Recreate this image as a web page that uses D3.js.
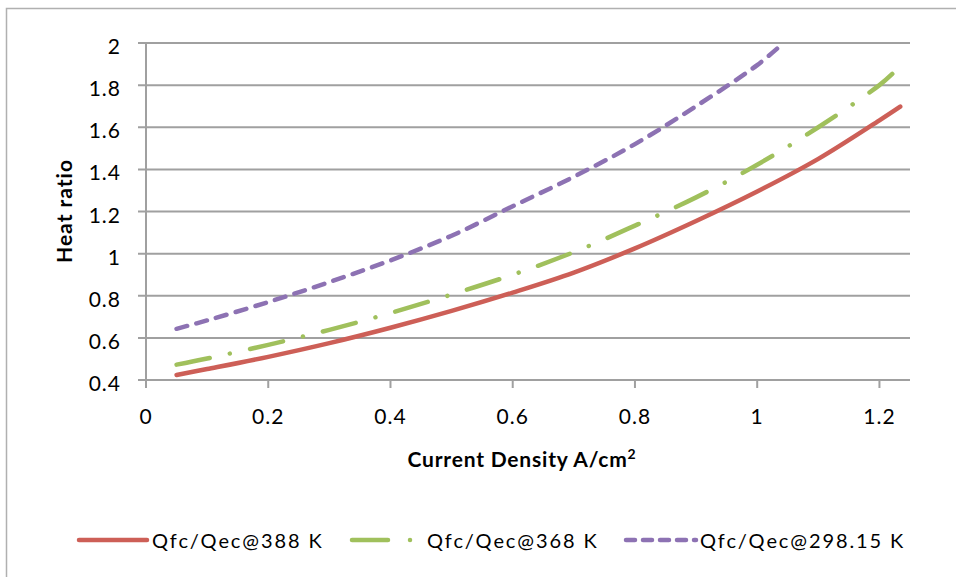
<!DOCTYPE html>
<html>
<head>
<meta charset="utf-8">
<script src="https://cdn.jsdelivr.net/npm/d3@7"></script>
<style>
  body { margin: 0; background: #fff; }
  text { font-family: Lato, "Open Sans", sans-serif; fill: #000; }
</style>
</head>
<body>
<span></span>
<script>
let width = 956;
let height = 577;

// current density (A/cm2)
let xRed = [0.05, 0.1, 0.2, 0.3, 0.4, 0.5, 0.6, 0.7, 0.8, 0.9, 1.0, 1.1, 1.2, 1.234];
let yRed = [0.424, 0.452, 0.51, 0.575, 0.648, 0.728, 0.815, 0.91, 1.025, 1.155, 1.295, 1.45, 1.633, 1.698];

let xGreen = [0.05, 0.1, 0.2, 0.3, 0.4, 0.5, 0.6, 0.7, 0.8, 0.9, 1.0, 1.1, 1.2, 1.221];
let yGreen = [0.473, 0.502, 0.567, 0.638, 0.718, 0.806, 0.9, 1.007, 1.133, 1.267, 1.422, 1.6, 1.8, 1.853];

let xPurple = [0.05, 0.1, 0.2, 0.3, 0.4, 0.5, 0.6, 0.7, 0.8, 0.9, 1.0, 1.041];
let yPurple = [0.643, 0.683, 0.77, 0.865, 0.968, 1.085, 1.225, 1.365, 1.52, 1.70, 1.895, 1.995];

let seriesNames = ["Qfc/Qec@388 K", "Qfc/Qec@368 K", "Qfc/Qec@298.15 K"];
let xTicks = [0, 0.2, 0.4, 0.6, 0.8, 1, 1.2];
let yTicks = [0.4, 0.6, 0.8, 1, 1.2, 1.4, 1.6, 1.8, 2];

let plotLeft = 146, plotRight = 910, plotTop = 43, plotBottom = 380;

let svg = d3.select("span")
    .append("svg")
    .attr("width", width)
    .attr("height", height);

// outer chart border
svg.append("rect")
    .attr("x", 6.5).attr("y", 8.5)
    .attr("width", 1000).attr("height", 1000)
    .style("fill", "none")
    .style("stroke", "#b0b0b0")
    .style("stroke-width", 1.5);

let x = d3.scaleLinear().domain([0, 1.25]).range([plotLeft, plotRight]);
let y = d3.scaleLinear().domain([0.4, 2]).range([plotBottom, plotTop]);

// gridlines
svg.append("g")
    .selectAll("line")
    .data(yTicks)
    .join("line")
    .attr("x1", plotLeft - 8).attr("x2", plotRight)
    .attr("y1", d => y(d)).attr("y2", d => y(d))
    .style("stroke", "#a0a0a0")
    .style("stroke-width", 2);

// y axis
svg.append("line")
    .attr("x1", plotLeft).attr("x2", plotLeft)
    .attr("y1", plotTop).attr("y2", plotBottom + 1)
    .style("stroke", "#a0a0a0").style("stroke-width", 2);

// x axis ticks
svg.append("g")
    .selectAll("line")
    .data(xTicks)
    .join("line")
    .attr("x1", d => x(d)).attr("x2", d => x(d))
    .attr("y1", plotBottom).attr("y2", plotBottom + 8)
    .style("stroke", "#a0a0a0").style("stroke-width", 2);

// tick labels
svg.append("g")
    .selectAll("text")
    .data(yTicks)
    .join("text")
    .attr("x", 121)
    .attr("y", d => y(d) + 11)
    .attr("text-anchor", "end")
    .style("font-size", "21px")
    .style("letter-spacing", "1px")
    .text(d => d3.format("")(d));

svg.append("g")
    .selectAll("text")
    .data(xTicks)
    .join("text")
    .attr("x", d => x(d))
    .attr("y", 424)
    .attr("text-anchor", "middle")
    .style("font-size", "21px")
    .style("letter-spacing", "1px")
    .text(d => d3.format("")(d));

// axis titles
let xTitle = svg.append("text")
    .attr("x", 522)
    .attr("y", 467)
    .attr("text-anchor", "middle")
    .style("font-size", "21px")
    .style("font-weight", "bold")
    .style("letter-spacing", "0.8px");
xTitle.append("tspan").text("Current Density A/cm");
xTitle.append("tspan").attr("dy", -8).style("font-size", "14px").text("2");

svg.append("text")
    .attr("transform", "translate(72," + 211 + ") rotate(-90)")
    .attr("text-anchor", "middle")
    .style("font-size", "21px")
    .style("font-weight", "bold")
    .style("letter-spacing", "1px")
    .text("Heat ratio");

// series
let styles = [
    { color: "#cd5f57", dash: null },
    { color: "#a0c05c", dash: "34,20.5,0.01,20.5" },
    { color: "#8d72b3", dash: "11,9.5" }
];

let series = [
    d3.zip(xRed, yRed),
    d3.zip(xGreen, yGreen),
    d3.zip(xPurple, yPurple)
];

let line = d3.line()
    .x(d => x(d[0]))
    .y(d => y(d[1]))
    .curve(d3.curveCatmullRom.alpha(0.5));

series.forEach(function (data, i) {
    svg.append("path")
        .attr("d", line(data))
        .style("fill", "none")
        .style("stroke", styles[i].color)
        .style("stroke-width", 4.5)
        .style("stroke-linecap", "round")
        .style("stroke-dasharray", styles[i].dash);
});

// legend
let legendX = [79, 352, 626];
let legendLen = [68, 60, 70];
let legendTextX = [152, 427, 700];
let legendY = 540;

seriesNames.forEach(function (name, i) {
    svg.append("line")
        .attr("x1", legendX[i]).attr("x2", legendX[i] + legendLen[i])
        .attr("y1", legendY).attr("y2", legendY)
        .style("stroke", styles[i].color)
        .style("stroke-width", 4.5)
        .style("stroke-linecap", "round")
        .style("stroke-dasharray", i == 1 ? "36,22,0.01,100" : (i == 2 ? "9,8" : null));

    svg.append("text")
        .attr("x", legendTextX[i])
        .attr("y", legendY + 8)
        .style("font-size", "20px")
        .style("letter-spacing", "1.9px")
        .text(name);
});
</script>
</body>
</html>
